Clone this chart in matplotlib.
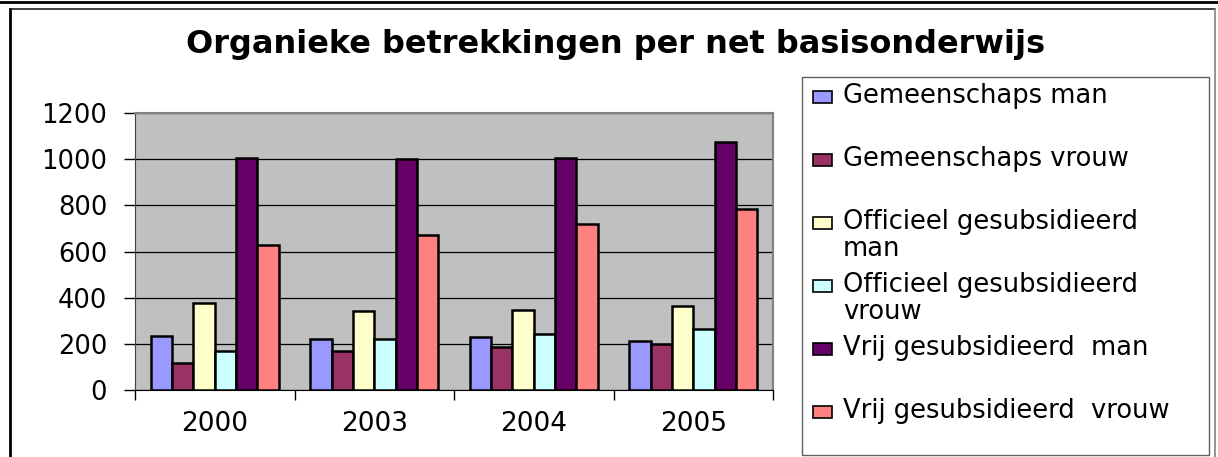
import matplotlib.pyplot as plt
import numpy as np
from matplotlib.patches import Rectangle
from matplotlib.lines import Line2D

plt.rcParams['font.family'] = ['DejaVu Sans']

years = ['2000', '2003', '2004', '2005']
series = ['Gemeenschaps man', 'Gemeenschaps vrouw', 'Officieel gesubsidieerd man',
          'Officieel gesubsidieerd vrouw', 'Vrij gesubsidieerd  man', 'Vrij gesubsidieerd  vrouw']
legend_labels = ['Gemeenschaps man', 'Gemeenschaps vrouw', 'Officieel gesubsidieerd\nman',
                 'Officieel gesubsidieerd\nvrouw', 'Vrij gesubsidieerd  man', 'Vrij gesubsidieerd  vrouw']

gem_man = [236, 223, 229, 215]
gem_vrouw = [118, 170, 186, 200]
off_man = [377, 341, 349, 363]
off_vrouw = [170, 223, 245, 267]
vrij_man = [1006, 1000, 1006, 1073]
vrij_vrouw = [630, 673, 718, 785]
values = [gem_man, gem_vrouw, off_man, off_vrouw, vrij_man, vrij_vrouw]

colors = ['#9999FF', '#993366', '#FFFFCC', '#CCFFFF', '#660066', '#FF8080']

W, H = 1218, 457
fig = plt.figure(figsize=(W / 100, H / 100), dpi=100)

# plot area in pixels
left, right, top, bottom = 135, 773, 112.7, 390.3
ax = fig.add_axes([left / W, 1 - bottom / H, (right - left) / W, (bottom - top) / H])
ax.set_facecolor('#C0C0C0')

x = np.arange(len(years))
w = 1 / 7.5
for i, vals in enumerate(values):
    ax.bar(x + (i - 2.5) * w, vals, width=w, color=colors[i], edgecolor='black',
           linewidth=1.8, zorder=3)

ax.set_xlim(-0.5, 3.5)
ax.set_ylim(0, 1200)
ax.set_yticks(range(0, 1201, 200))
ax.yaxis.grid(True, color='black', linewidth=0.9, zorder=1)
ax.set_axisbelow(True)

ax.set_xticks(x)
ax.set_xticklabels(years)
ax.set_xticks(np.arange(-0.5, 3.6, 1), minor=True)
ax.tick_params(axis='x', which='major', length=0, pad=15, labelsize=19)
ax.tick_params(axis='x', which='minor', length=7, width=1, direction='out')
ax.tick_params(axis='y', length=8, width=1, direction='out', pad=12, labelsize=18.5)

for s in ['top', 'right']:
    ax.spines[s].set_color('#808080')
    ax.spines[s].set_linewidth(1.5)
ax.spines['left'].set_color('#404040')
ax.spines['bottom'].set_color('black')

# title
fig.text(616 / W, 1 - 44 / H, 'Organieke betrekkingen per net basisonderwijs',
         ha='center', va='center', fontsize=23, fontweight='bold')

# outer frame lines
def px_line(x0, y0, x1, y1, color, lw):
    fig.add_artist(Line2D([x0 / W, x1 / W], [1 - y0 / H, 1 - y1 / H],
                          transform=fig.transFigure, color=color, linewidth=lw))

px_line(0, 1.5, W, 1.5, 'black', 2)
px_line(10, 9, 10, H, 'black', 2)
px_line(10, 9, 1215, 9, '#202020', 1.2)
px_line(1215, 9, 1215, H, '#808080', 1.2)

# legend box
fig.add_artist(Rectangle((802 / W, 1 - 455 / H), (1209 - 802) / W, (455 - 77) / H,
                         transform=fig.transFigure, facecolor='white',
                         edgecolor='#606060', linewidth=1))
for i, lab in enumerate(legend_labels):
    yc = 96 + i * 63
    fig.add_artist(Rectangle((813 / W, 1 - (yc + 7) / H), 19 / W, 12 / H,
                             transform=fig.transFigure, facecolor=colors[i],
                             edgecolor='black', linewidth=1.2))
    fig.text(843 / W, 1 - (yc - 13) / H, lab, ha='left', va='top', fontsize=18.5,
             linespacing=1.05)

fig.savefig('out.png', dpi=100)
